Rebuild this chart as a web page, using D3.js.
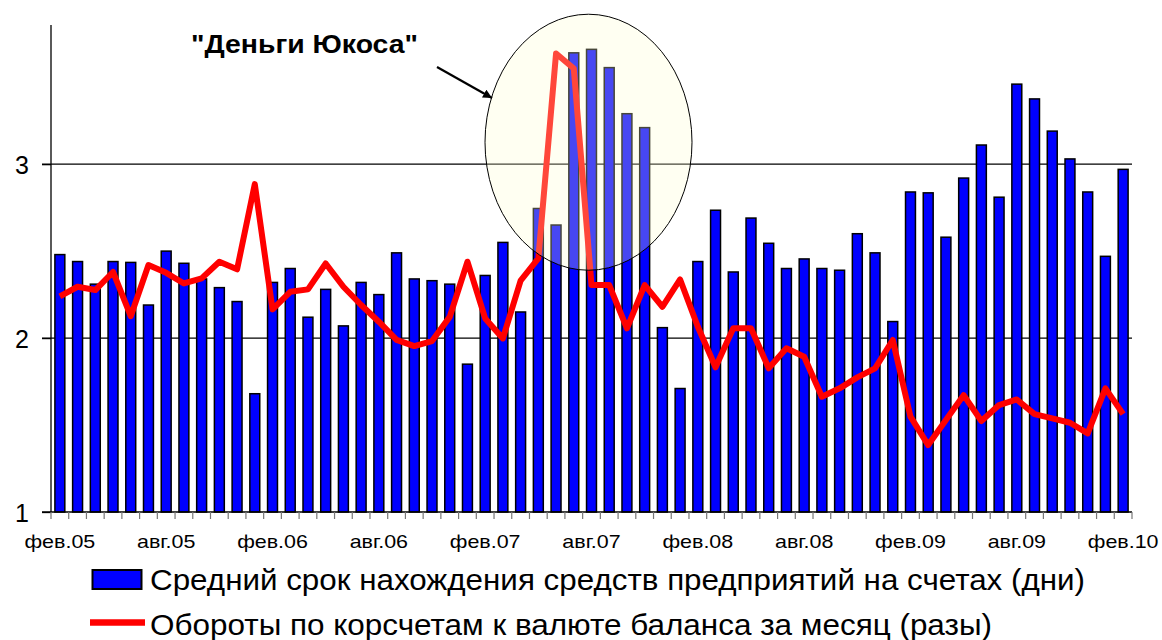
<!DOCTYPE html>
<html><head><meta charset="utf-8">
<script src="https://cdn.jsdelivr.net/npm/d3@7"></script>
<style>body{margin:0;background:#fff}svg{display:block}text{font-family:"Liberation Sans",Arial,sans-serif}</style>
</head><body>
<svg id="c" width="1162" height="640"></svg>
<script>
const categories = ["фев.05","мар.05","апр.05","май.05","июн.05","июл.05","авг.05","сен.05","окт.05","ноя.05","дек.05","янв.06",
"фев.06","мар.06","апр.06","май.06","июн.06","июл.06","авг.06","сен.06","окт.06","ноя.06","дек.06","янв.07",
"фев.07","мар.07","апр.07","май.07","июн.07","июл.07","авг.07","сен.07","окт.07","ноя.07","дек.07","янв.08",
"фев.08","мар.08","апр.08","май.08","июн.08","июл.08","авг.08","сен.08","окт.08","ноя.08","дек.08","янв.09",
"фев.09","мар.09","апр.09","май.09","июн.09","июл.09","авг.09","сен.09","окт.09","ноя.09","дек.09","янв.10","фев.10"];
const daysOnAccounts = [2.48,2.44,2.31,2.44,2.435,2.19,2.50,2.43,2.34,2.29,2.21,1.68,
2.32,2.40,2.12,2.28,2.07,2.32,2.25,2.49,2.34,2.33,2.31,1.85,
2.36,2.55,2.15,2.745,2.65,3.64,3.66,3.555,3.29,3.21,2.06,1.71,
2.44,2.735,2.38,2.69,2.545,2.40,2.455,2.40,2.39,2.60,2.49,2.095,
2.84,2.835,2.58,2.92,3.11,2.81,3.46,3.375,3.19,3.03,2.84,2.47,2.97];
const turnover = [2.24,2.295,2.276,2.38,2.126,2.42,2.375,2.314,2.343,2.439,2.395,2.885,
2.165,2.266,2.28,2.429,2.295,2.19,2.094,1.99,1.954,1.983,2.122,2.439,
2.113,1.998,2.33,2.458,3.636,3.55,2.305,2.305,2.056,2.305,2.18,2.337,
2.065,1.832,2.056,2.056,1.826,1.941,1.893,1.663,1.711,1.774,1.826,1.989,
1.548,1.385,1.529,1.672,1.523,1.615,1.647,1.563,1.538,1.513,1.452,1.711,1.563];
const yTicks = [1,2,3];
const xTickLabels = ["фев.05","авг.05","фев.06","авг.06","фев.07","авг.07","фев.08","авг.08","фев.09","авг.09","фев.10"];
const legendLabels = ["Средний срок нахождения средств предприятий на счетах (дни)","Обороты по корсчетам к валюте баланса за месяц (разы)"];
const annotation = "\"Деньги Юкоса\"";

const svg = d3.select("#c");
const L = 51, R = 1132, T = 25, B = 512;
const x = d3.scaleBand().domain(categories).range([L, R]).paddingInner(0.44).paddingOuter(0.22);
const step = x.step();
const xc = c => x(c) + x.bandwidth() / 2;
const y = d3.scaleLinear().domain([1, 3.8]).range([B, T]);

// gridlines
svg.append("g").selectAll("line").data(yTicks.filter(d => d > 1)).join("line")
  .attr("x1", L - 9).attr("x2", R).attr("y1", d => y(d)).attr("y2", d => y(d))
  .attr("stroke", "#000").attr("stroke-width", 1.3);

// bars
svg.append("g").selectAll("rect").data(daysOnAccounts).join("rect")
  .attr("x", (d, i) => x(categories[i])).attr("width", x.bandwidth())
  .attr("y", d => y(d)).attr("height", d => y(1) - y(d))
  .attr("fill", "#0000ff").attr("stroke", "#000").attr("stroke-width", 1.5);

// y axis
const ya = svg.append("g").attr("transform", `translate(${L},0)`)
  .call(d3.axisLeft(y).tickValues(yTicks).tickSize(9).tickFormat(d3.format("d")));
ya.select(".domain").attr("d", `M0,${T}V${B}`).attr("stroke", "#000").attr("stroke-width", 1.3);
ya.selectAll(".tick line").attr("stroke", "#000").attr("stroke-width", 1.3);
ya.selectAll(".tick text").attr("font-size", 25).attr("x", -22).attr("dy", "0.36em").attr("fill", "#000")
  .style("font-family", "'Liberation Sans',Arial,sans-serif");

// x axis baseline + category ticks
svg.append("line").attr("x1", L - 9).attr("x2", R).attr("y1", B).attr("y2", B).attr("stroke", "#000").attr("stroke-width", 1.3);
svg.append("g").selectAll("line").data(d3.range(categories.length + 1)).join("line")
  .attr("x1", i => L + i * step).attr("x2", i => L + i * step).attr("y1", B).attr("y2", B + 7)
  .attr("stroke", "#777").attr("stroke-width", 1.2);
svg.append("g").selectAll("text").data(xTickLabels).join("text")
  .attr("transform", d => `translate(${xc(d)},548) scale(1.16,1)`)
  .attr("text-anchor", "middle").attr("font-size", 18.5).attr("fill", "#000").text(d => d);

// line
const line = d3.line().x((d, i) => xc(categories[i])).y(d => y(d));
svg.append("path").datum(turnover).attr("d", line).attr("fill", "none")
  .attr("stroke", "#ff0000").attr("stroke-width", 6).attr("stroke-linejoin", "round");

// highlight ellipse
svg.append("ellipse").attr("cx", xc(categories[30]) - 3).attr("cy", y(3.126)).attr("rx", 103.5).attr("ry", 128)
  .attr("fill", "#ffffd0").attr("fill-opacity", 0.28).attr("stroke", "#000").attr("stroke-width", 1);

// annotation
svg.append("defs").append("marker").attr("id", "ah").attr("viewBox", "0 0 10 10").attr("refX", 10).attr("refY", 5)
  .attr("markerWidth", 9).attr("markerHeight", 9).attr("orient", "auto").attr("markerUnits", "userSpaceOnUse")
  .append("path").attr("d", "M0,0L10,5L0,10z").attr("fill", "#000");
svg.append("line").attr("x1", 437).attr("y1", 67).attr("x2", 492).attr("y2", 98)
  .attr("stroke", "#000").attr("stroke-width", 2.2).attr("marker-end", "url(#ah)");
svg.append("text").attr("x", 191).attr("y", 53).attr("font-size", 26).attr("font-weight", "bold")
  .attr("textLength", 227).attr("lengthAdjust", "spacingAndGlyphs").text(annotation);

// legend
svg.append("rect").attr("x", 92.5).attr("y", 570).attr("width", 49).attr("height", 19)
  .attr("fill", "#0000ff").attr("stroke", "#000").attr("stroke-width", 2);
svg.append("line").attr("x1", 90).attr("x2", 145).attr("y1", 622.5).attr("y2", 622.5)
  .attr("stroke", "#ff0000").attr("stroke-width", 6.5);
svg.append("text").attr("x", 150).attr("y", 590).attr("font-size", 30)
  .attr("textLength", 935).attr("lengthAdjust", "spacingAndGlyphs").text(legendLabels[0]);
svg.append("text").attr("x", 150).attr("y", 635).attr("font-size", 30)
  .attr("textLength", 842).attr("lengthAdjust", "spacingAndGlyphs").text(legendLabels[1]);
</script>
</body></html>
